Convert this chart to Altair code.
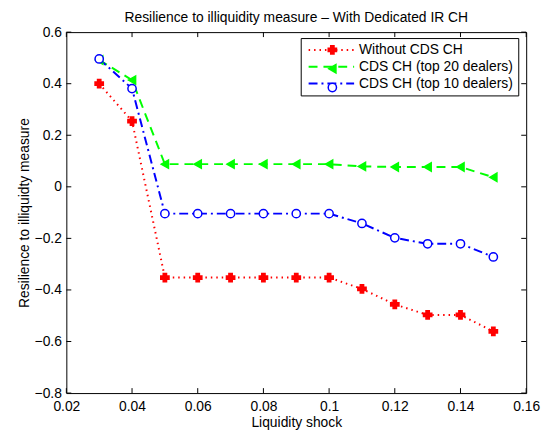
import altair as alt
import pandas as pd

series_names = ["Without CDS CH", "CDS CH (top 20 dealers)", "CDS CH (top 10 dealers)"]
shock = [0.03, 0.04, 0.05, 0.06, 0.07, 0.08, 0.09, 0.10, 0.11, 0.12, 0.13, 0.14, 0.15]
without_cds = [0.40, 0.255, -0.352, -0.352, -0.352, -0.352, -0.352, -0.352, -0.396, -0.456, -0.497, -0.497, -0.561]
top20 = [0.492, 0.414, 0.088, 0.088, 0.088, 0.088, 0.088, 0.088, 0.079, 0.077, 0.077, 0.077, 0.037]
top10 = [0.496, 0.381, -0.104, -0.104, -0.104, -0.104, -0.104, -0.104, -0.142, -0.198, -0.221, -0.221, -0.272]
x_ticks = [0.02, 0.04, 0.06, 0.08, 0.10, 0.12, 0.14, 0.16]
y_ticks = [-0.8, -0.6, -0.4, -0.2, 0.0, 0.2, 0.4, 0.6]

colors = ["#ff0000", "#00ff00", "#0000ff"]
fills = ["#ff0000", "#00ff00", "#ffffff"]
shapes = ["cross", "triangle-left", "circle"]
dashes = [[1.5, 4], [9, 6], [9, 4, 2, 4]]

rows = []
for name, vals in zip(series_names, [without_cds, top20, top10]):
    for xv, yv in zip(shock, vals):
        rows.append({"series": name, "x": xv, "y": yv})
df = pd.DataFrame(rows)
xt_df = pd.DataFrame({"x": x_ticks})
yt_df = pd.DataFrame({"y": y_ticks})

FONT = "Liberation Sans"
FS = 14
W, H = 465, 365
TICK = 5

xscale = alt.Scale(domain=[0.02, 0.16], nice=False, zero=False)
yscale = alt.Scale(domain=[-0.8, 0.6], nice=False, zero=False)

common_axis = dict(ticks=False, domain=False, grid=False, labelFlush=False,
                   labelFontSize=FS, titleFontSize=FS,
                   labelFont=FONT, titleFont=FONT, labelColor="black", titleColor="black",
                   titleFontWeight="normal")

x_axis = alt.Axis(values=x_ticks, format="~g", orient="bottom", labelPadding=7,
                  title="Liquidity shock", titlePadding=2, **common_axis)
y_axis = alt.Axis(values=y_ticks, format="~g", orient="left", labelPadding=5,
                  title="Resilience to illiquidty measure", titlePadding=3, **common_axis)

LEG_PAD = 5
line_legend = alt.Legend(title=None, orient="none", legendX=237, legendY=6,
                         symbolType="M-0.8,0H8.4", symbolSize=100, symbolStrokeWidth=2,
                         labelFont=FONT, labelFontSize=FS, labelColor="black",
                         fillColor="white", strokeColor="black", padding=LEG_PAD,
                         rowPadding=3, labelOffset=40, zindex=0)
point_legend = alt.Legend(title=None, orient="none", legendX=257, legendY=6,
                          symbolSize=70, symbolStrokeWidth=1.5,
                          labelFont=FONT, labelFontSize=FS, labelExpr="' '",
                          padding=LEG_PAD, rowPadding=3, labelOffset=6, zindex=1)

line = alt.Chart(df).mark_line(strokeWidth=2).encode(
    x=alt.X("x:Q", scale=xscale, axis=x_axis),
    y=alt.Y("y:Q", scale=yscale, axis=y_axis),
    color=alt.Color("series:N", scale=alt.Scale(domain=series_names, range=colors), legend=line_legend),
    strokeDash=alt.StrokeDash("series:N", scale=alt.Scale(domain=series_names, range=dashes), legend=line_legend),
)

points = alt.Chart(df).mark_point(filled=True, size=70, strokeWidth=1.5, opacity=1).encode(
    x=alt.X("x:Q", scale=xscale),
    y=alt.Y("y:Q", scale=yscale),
    stroke=alt.Stroke("series:N", scale=alt.Scale(domain=series_names, range=colors), legend=point_legend),
    fill=alt.Fill("series:N", scale=alt.Scale(domain=series_names, range=fills), legend=point_legend),
    shape=alt.Shape("series:N", scale=alt.Scale(domain=series_names, range=shapes), legend=point_legend),
)

# inward tick marks on all four sides of the box (positioned by the x / y scales)
tick_mark = dict(color="black", strokeWidth=1, opacity=1)
ticks_bottom = alt.Chart(xt_df).mark_rule(**tick_mark).encode(
    x=alt.X("x:Q", scale=xscale), y=alt.value(H - TICK), y2=alt.value(H))
ticks_top = alt.Chart(xt_df).mark_rule(**tick_mark).encode(
    x=alt.X("x:Q", scale=xscale), y=alt.value(0), y2=alt.value(TICK))
ticks_left = alt.Chart(yt_df).mark_rule(**tick_mark).encode(
    y=alt.Y("y:Q", scale=yscale), x=alt.value(0), x2=alt.value(TICK))
ticks_right = alt.Chart(yt_df).mark_rule(**tick_mark).encode(
    y=alt.Y("y:Q", scale=yscale), x=alt.value(W - TICK), x2=alt.value(W))

chart = alt.layer(line, points, ticks_bottom, ticks_top, ticks_left, ticks_right).resolve_scale(
    color="independent", strokeDash="independent", stroke="independent",
    fill="independent", shape="independent").properties(
    width=W, height=H,
    title=alt.Title("Resilience to illiquidity measure \u2013 With Dedicated IR CH",
                    font=FONT, fontSize=FS, fontWeight="normal", color="black", offset=0),
    autosize=alt.AutoSizeParams(type="none"),
    padding={"left": 59, "top": 22, "right": 16, "bottom": 40},
).configure_view(stroke="black", strokeWidth=1)

chart.save("out.html", embed_options={"renderer": "svg", "actions": False})
